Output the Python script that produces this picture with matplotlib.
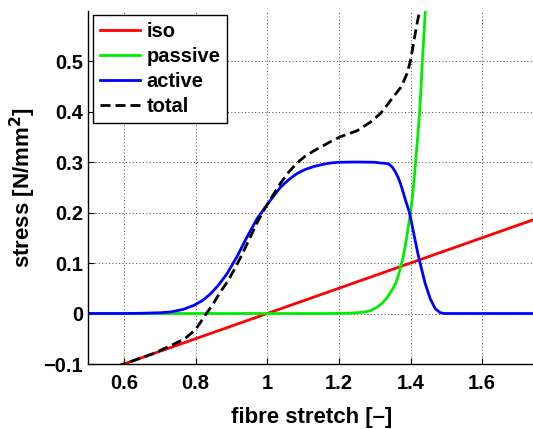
import numpy as np
import matplotlib
matplotlib.use("Agg")
import matplotlib.pyplot as plt

plt.rcParams["font.family"] = ["Liberation Sans", "DejaVu Sans"]
plt.rcParams["font.weight"] = "bold"

# values
iso_x = [0.5, 1.75]
iso_y = [-0.125, 0.1875]

passive_x = [0.5, 1.176, 1.22, 1.25, 1.269, 1.29, 1.307, 1.322, 1.335, 1.347,
             1.358, 1.366, 1.372, 1.378, 1.383, 1.388, 1.392, 1.40, 1.405, 1.409,
             1.414, 1.42, 1.4256, 1.433, 1.4414]
passive_y = [0.0, 0.0, 0.0005, 0.0015, 0.0026, 0.006, 0.0125, 0.021, 0.032, 0.045,
             0.0588, 0.075, 0.092, 0.108, 0.125, 0.145, 0.164, 0.2, 0.23, 0.257,
             0.3, 0.35, 0.4, 0.5, 0.601]

active_x = [0.5, 0.59, 0.65, 0.7, 0.73, 0.765, 0.795, 0.82, 0.842, 0.865, 0.888,
            0.916, 0.944, 0.972, 1.0, 1.037, 1.06, 1.083, 1.105, 1.13, 1.153,
            1.176, 1.2, 1.25, 1.3, 1.316, 1.328, 1.339, 1.349, 1.358, 1.365,
            1.372, 1.379, 1.386, 1.397, 1.409, 1.42, 1.429, 1.441, 1.455, 1.469,
            1.483, 1.495, 1.75]
active_y = [0.0, 0.0, 0.0005, 0.0015, 0.003, 0.008, 0.016, 0.026, 0.039, 0.057,
            0.079, 0.113, 0.152, 0.188, 0.216, 0.25, 0.265, 0.277, 0.285, 0.291,
            0.295, 0.298, 0.2995, 0.3, 0.2995, 0.298, 0.2975, 0.296, 0.29, 0.28,
            0.27, 0.257, 0.241, 0.224, 0.2, 0.158, 0.12, 0.093, 0.059, 0.029,
            0.0093, 0.0015, 0.0, 0.0]

total_x = [0.5, 0.623, 0.68, 0.73, 0.77, 0.8, 0.8305, 0.85, 0.8696, 0.888,
           0.9067, 0.925, 0.944, 0.972, 1.0, 1.037, 1.06, 1.083, 1.105, 1.13,
           1.153, 1.176, 1.204, 1.251, 1.288, 1.316, 1.335, 1.353, 1.372, 1.381,
           1.39, 1.40, 1.409, 1.418, 1.424]
total_y = [-0.125, -0.0943, -0.08, -0.064, -0.05, -0.032, 0.0, 0.02, 0.043, 0.062,
           0.085, 0.11, 0.138, 0.18, 0.216, 0.258, 0.28, 0.298, 0.311, 0.322,
           0.331, 0.34, 0.35, 0.362, 0.379, 0.396, 0.413, 0.43, 0.447, 0.46,
           0.475, 0.501, 0.538, 0.574, 0.594]

fig = plt.figure(figsize=(5.33, 4.29), dpi=100)
ax = fig.add_axes([0.1651, 0.1515, 0.8405, 0.824])

ax.plot(iso_x, iso_y, color="#ff0000", lw=2, label="iso")
ax.plot(passive_x, passive_y, color="#00ee00", lw=2, label="passive")
ax.plot(active_x, active_y, color="#0000ff", lw=2, label="active")
ax.plot(total_x, total_y, color="black", lw=2, dashes=(3.6, 1.8), label="total")

ax.set_xlim(0.5, 1.75)
ax.set_ylim(-0.1, 0.6)
ax.set_xticks([0.6, 0.8, 1.0, 1.2, 1.4, 1.6])
ax.set_xticklabels(["0.6", "0.8", "1", "1.2", "1.4", "1.6"])
ax.set_yticks([-0.1, 0, 0.1, 0.2, 0.3, 0.4, 0.5])
ax.set_yticklabels(["\u22120.1", "0", "0.1", "0.2", "0.3", "0.4", "0.5"])
ax.tick_params(which="major", direction="in", labelsize=14.5, length=4, width=0.8)
ax.tick_params(axis="x", pad=7)

for s in ["top", "right"]:
    ax.spines[s].set_visible(False)
for s in ["left", "bottom"]:
    ax.spines[s].set_linewidth(1.0)

ax.grid(True, which="major", linestyle=(0, (1, 2.5)), color="#444444", lw=0.7)

ax.set_xlabel("fibre stretch [\u2013]", fontsize=16, fontweight="bold", labelpad=10)
ax.set_ylabel("stress [N/mm$^\\mathbf{2}$]", fontsize=16, fontweight="bold", labelpad=4)

leg = ax.legend(loc="upper left", bbox_to_anchor=(93 / 533, 1 - 15 / 429),
                bbox_transform=fig.transFigure, fontsize=14.5, frameon=True,
                fancybox=False, handlelength=2.0, handletextpad=0.3,
                labelspacing=0.3, borderpad=0.35, borderaxespad=0)
leg.get_frame().set_edgecolor("black")
leg.get_frame().set_linewidth(1.0)
leg.get_frame().set_alpha(1)

fig.savefig("out.png", dpi=100)
